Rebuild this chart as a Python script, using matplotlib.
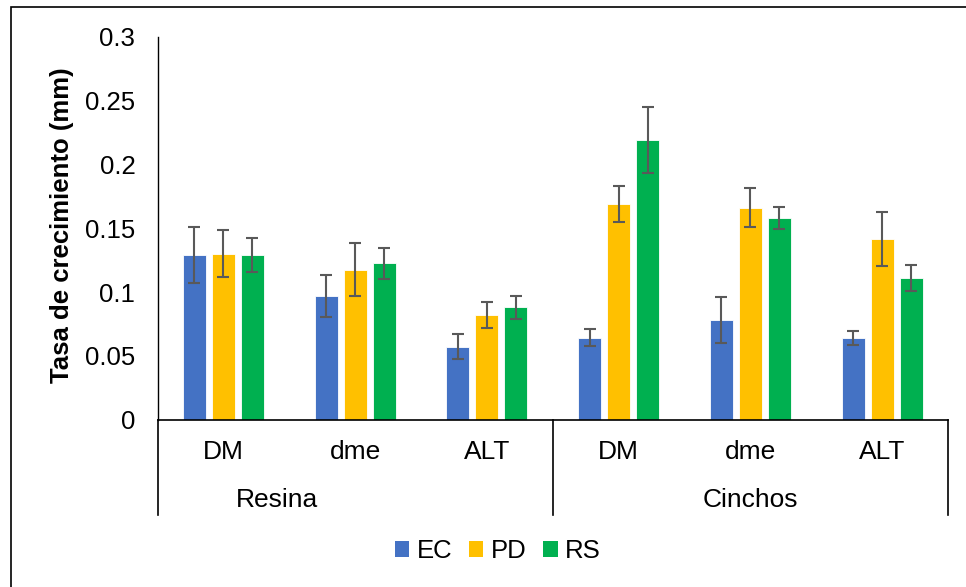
import matplotlib
matplotlib.use("Agg")
import matplotlib.pyplot as plt
import numpy as np
from matplotlib.patches import Rectangle, Patch

plt.rcParams['font.family'] = ['Liberation Sans', 'DejaVu Sans']

groups = ["Resina", "Cinchos"]
variables = ["DM", "dme", "ALT", "DM", "dme", "ALT"]
series = ["EC", "PD", "RS"]
colors = ["#4472C4", "#FFC000", "#00B050"]

ec = [0.129, 0.097, 0.057, 0.064, 0.078, 0.064]
pd_ = [0.130, 0.1175, 0.082, 0.169, 0.166, 0.1415]
rs = [0.129, 0.1225, 0.088, 0.219, 0.158, 0.111]
ec_err = [0.022, 0.0165, 0.0097, 0.0067, 0.0178, 0.0055]
pd_err = [0.0185, 0.021, 0.0105, 0.0144, 0.0152, 0.021]
rs_err = [0.0133, 0.012, 0.0088, 0.026, 0.0087, 0.010]

values = [ec, pd_, rs]
errors = [ec_err, pd_err, rs_err]

FS = 19
W, H = 966, 587
fig = plt.figure(figsize=(W / 100, H / 100), dpi=100)
left, right, top, bottom = 157.5, 948, 37, 419.5
ax = fig.add_axes([left / W, (H - bottom) / H, (right - left) / W, (bottom - top) / H])

x = np.arange(len(variables))
offsets = [-0.22, 0.0, 0.22]
for vals, errs, col, off, name in zip(values, errors, colors, offsets, series):
    ax.bar(x + off, vals, width=0.175, color=col, edgecolor="white", linewidth=0.6, label=name, zorder=2)
    ax.errorbar(x + off, vals, yerr=errs, fmt="none", ecolor="#595959", elinewidth=1.5,
                capsize=4.5, capthick=1.5, zorder=3)

ax.set_xlim(-0.5, len(variables) - 0.5)
ax.set_ylim(0, 0.3)
ax.set_yticks(np.arange(0, 0.31, 0.05))
ax.set_yticklabels(["0", "0.05", "0.1", "0.15", "0.2", "0.25", "0.3"])
ax.tick_params(axis="y", length=0, pad=16, labelsize=FS - 0.5)
ax.set_xticks([])
for s in ["top", "right"]:
    ax.spines[s].set_visible(False)
ax.spines["left"].set_linewidth(1.0)
ax.spines["bottom"].set_linewidth(1.2)
ax.spines["left"].set_color("black")
ax.spines["bottom"].set_color("black")

fig.text(62 / W, 1 - 225 / H, "Tasa de crecimiento (mm)", rotation=90, ha="center", va="center",
         fontsize=FS - 0.5, fontweight="bold")

# category axis
tr = ax.get_xaxis_transform()
axh = bottom - top
y_end = -(515 - bottom) / axh
y_var = -(452 - bottom) / axh
y_grp = -(500 - bottom) / axh
for xv in [-0.5, 2.5, 5.5]:
    ax.plot([xv, xv], [0, y_end], transform=tr, color="black", lw=1.2, clip_on=False)
for xi, lab in zip(x, variables):
    ax.text(xi, y_var, lab, transform=tr, ha="center", va="center", fontsize=FS)
grp_pos = [0.41, 4.0]
for gx, g in zip(grp_pos, groups):
    ax.text(gx, y_grp, g, transform=tr, ha="center", va="center", fontsize=FS)

handles = [Patch(facecolor=c, edgecolor="none") for c in colors]
fig.legend(handles, series, loc="center", bbox_to_anchor=(498 / W, 1 - 551 / H), ncol=3,
           frameon=False, fontsize=FS - 0.5, handlelength=0.55, handleheight=0.55,
           handletextpad=0.3, columnspacing=0.65)

fig.add_artist(Rectangle((11 / W, -0.1), 1.2, 1 - 7 / H + 0.1, transform=fig.transFigure,
                         fill=False, edgecolor="black", lw=1.2))

fig.savefig("out.png", dpi=100)
